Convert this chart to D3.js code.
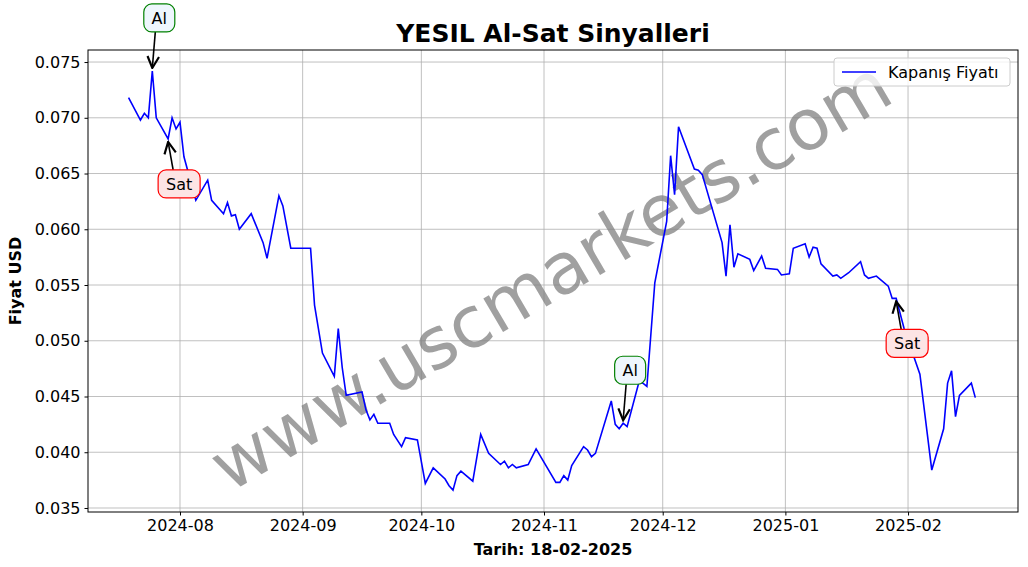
<!DOCTYPE html>
<html><head><meta charset="utf-8">
<script src="https://cdn.jsdelivr.net/npm/d3@7"></script>
<style>body{margin:0;background:#fff}svg{font-family:"DejaVu Sans",sans-serif}</style>
</head><body><svg id="c" width="1028" height="567"></svg>
<script>
const dates=["2024-07-19","2024-07-22","2024-07-23","2024-07-24","2024-07-25","2024-07-26","2024-07-29","2024-07-30","2024-07-31","2024-08-01","2024-08-02","2024-08-05","2024-08-08","2024-08-09","2024-08-12","2024-08-13","2024-08-14","2024-08-15","2024-08-16","2024-08-19","2024-08-22","2024-08-23","2024-08-26","2024-08-27","2024-08-29","2024-09-03","2024-09-04","2024-09-06","2024-09-09","2024-09-10","2024-09-11","2024-09-12","2024-09-16","2024-09-17","2024-09-18","2024-09-19","2024-09-20","2024-09-23","2024-09-24","2024-09-26","2024-09-27","2024-09-30","2024-10-02","2024-10-04","2024-10-07","2024-10-08","2024-10-09","2024-10-10","2024-10-11","2024-10-14","2024-10-16","2024-10-18","2024-10-21","2024-10-22","2024-10-23","2024-10-24","2024-10-25","2024-10-28","2024-10-30","2024-11-04","2024-11-05","2024-11-06","2024-11-07","2024-11-08","2024-11-11","2024-11-12","2024-11-13","2024-11-14","2024-11-18","2024-11-19","2024-11-20","2024-11-21","2024-11-22","2024-11-25","2024-11-26","2024-11-27","2024-11-29","2024-12-02","2024-12-03","2024-12-04","2024-12-05","2024-12-09","2024-12-10","2024-12-11","2024-12-16","2024-12-17","2024-12-18","2024-12-19","2024-12-20","2024-12-23","2024-12-24","2024-12-26","2024-12-27","2024-12-30","2024-12-31","2025-01-02","2025-01-03","2025-01-06","2025-01-07","2025-01-08","2025-01-09","2025-01-10","2025-01-13","2025-01-14","2025-01-15","2025-01-17","2025-01-20","2025-01-21","2025-01-22","2025-01-24","2025-01-27","2025-01-28","2025-01-29","2025-01-31","2025-02-04","2025-02-07","2025-02-10","2025-02-11","2025-02-12","2025-02-13","2025-02-14","2025-02-17","2025-02-18"];
const prices=[0.0718,0.0698,0.0704,0.0700,0.0742,0.0700,0.0681,0.0700,0.0690,0.0696,0.0665,0.0626,0.0644,0.0626,0.0614,0.0624,0.0612,0.0613,0.0600,0.0614,0.0588,0.0574,0.0630,0.0621,0.0583,0.0583,0.0532,0.0489,0.0468,0.0511,0.0476,0.0451,0.0454,0.0438,0.0429,0.0434,0.0426,0.0426,0.0416,0.0405,0.0413,0.0411,0.0372,0.0386,0.0376,0.0370,0.0366,0.0379,0.0383,0.0374,0.0416,0.0399,0.0389,0.0392,0.0386,0.0389,0.0386,0.0389,0.0403,0.0373,0.0373,0.0379,0.0375,0.0388,0.0405,0.0402,0.0396,0.0399,0.0446,0.0425,0.0421,0.0426,0.0423,0.0463,0.0462,0.0459,0.0552,0.0607,0.0666,0.0631,0.0692,0.0654,0.0653,0.0649,0.0588,0.0558,0.0604,0.0566,0.0578,0.0573,0.0563,0.0576,0.0565,0.0564,0.0559,0.0560,0.0583,0.0587,0.0575,0.0584,0.0583,0.0569,0.0558,0.0559,0.0556,0.0561,0.0571,0.0559,0.0556,0.0558,0.0549,0.0538,0.0538,0.0511,0.0470,0.0384,0.0421,0.0462,0.0473,0.0432,0.0451,0.0462,0.0449];
const yTicks=[0.035,0.040,0.045,0.050,0.055,0.060,0.065,0.070,0.075];
const xTickDates=["2024-08-01","2024-09-01","2024-10-01","2024-11-01","2024-12-01","2025-01-01","2025-02-01"];
const signals=[{date:"2024-07-25",label:"Al",type:"buy"},{date:"2024-07-29",label:"Sat",type:"sell"},{date:"2024-11-21",label:"Al",type:"buy"},{date:"2025-01-29",label:"Sat",type:"sell"}];

const P=d3.timeParse("%Y-%m-%d");
const data=dates.map((d,i)=>({d:P(d),v:prices[i]}));
const L=88,R=1018,T=50,B=512;
const FS=16;
const svg=d3.select("#c");
const x=d3.scaleTime().domain([new Date(2024,6,8,18),new Date(2025,1,28,19)]).range([L,R]);
const y=d3.scaleLinear().domain([0.03464,0.07608]).range([B,T]);
const g=svg.append("g");
g.selectAll(".gy").data(yTicks).join("line").attr("x1",L).attr("x2",R).attr("y1",d=>y(d)).attr("y2",d=>y(d)).attr("stroke","#b0b0b0").attr("stroke-width",0.8);
g.selectAll(".gx").data(xTickDates).join("line").attr("x1",d=>x(P(d))).attr("x2",d=>x(P(d))).attr("y1",T).attr("y2",B).attr("stroke","#b0b0b0").attr("stroke-width",0.8);
const ax=svg.append("g").attr("transform",`translate(0,${B})`).call(d3.axisBottom(x).tickValues(xTickDates.map(P)).tickFormat(d3.timeFormat("%Y-%m")).tickSizeOuter(0).tickSize(3.5).tickPadding(4));
const ay=svg.append("g").attr("transform",`translate(${L},0)`).call(d3.axisLeft(y).tickValues(yTicks).tickFormat(d3.format(".3f")).tickSizeOuter(0).tickSize(3.5).tickPadding(4));
[ax,ay].forEach(a=>{a.selectAll("text").attr("font-size",FS).attr("fill","#000").attr("font-family","DejaVu Sans");a.select(".domain").remove();});
svg.append("text").attr("transform","translate(553,280) rotate(-30.5)").attr("text-anchor","middle").attr("dominant-baseline","middle").attr("font-size",71).attr("fill","#808080").attr("fill-opacity",0.75).text("www.uscmarkets.com");
svg.append("path").datum(data).attr("fill","none").attr("stroke","#0000ff").attr("stroke-width",1.6).attr("d",d3.line().x(d=>x(d.d)).y(d=>y(d.v)));
svg.append("rect").attr("x",L).attr("y",T).attr("width",R-L).attr("height",B-T).attr("fill","none").attr("stroke","#000").attr("stroke-width",1);
svg.append("defs").append("marker").attr("id","ar").attr("viewBox","0 0 10 10").attr("refX",9).attr("refY",5).attr("markerWidth",9).attr("markerHeight",9).attr("orient","auto-start-reverse").append("path").attr("d","M1,1L9,5L1,9").attr("fill","none").attr("stroke","#000").attr("stroke-width",1.5);
signals.forEach(s=>{
  const pt=data.find(d=>+d.d===+P(s.date));
  const px=x(pt.d),py=y(pt.v);
  const buy=s.type==="buy";
  const tx=buy?px+7:px+11, ty=buy?py-53:py+45;
  const ex=px, ey=buy?py-3:py+3;
  svg.append("line").attr("x1",buy?tx-4:tx-6).attr("y1",buy?ty+14:ty-14).attr("x2",ex).attr("y2",ey).attr("stroke","#000").attr("stroke-width",1.6).attr("marker-end","url(#ar)");
  const w=buy?31:42;
  svg.append("rect").attr("x",tx-w/2).attr("y",ty-14).attr("width",w).attr("height",28).attr("rx",8).attr("fill",buy?"#eef6fd":"#fde4e4").attr("stroke",buy?"green":"red").attr("stroke-width",1.2);
  svg.append("text").attr("x",tx).attr("y",ty+6).attr("text-anchor","middle").attr("font-size",FS).text(s.label);
});
svg.append("text").attr("x",553).attr("y",42).attr("text-anchor","middle").attr("font-size",25).attr("font-weight","bold").text("YESIL Al-Sat Sinyalleri");
svg.append("text").attr("x",553).attr("y",555).attr("text-anchor","middle").attr("font-size",FS).attr("font-weight","bold").text("Tarih: 18-02-2025");
svg.append("text").attr("transform","translate(21,281) rotate(-90)").attr("text-anchor","middle").attr("font-size",FS).attr("font-weight","bold").text("Fiyat USD");
const lg=svg.append("g");
lg.append("rect").attr("x",834).attr("y",58).attr("width",176).attr("height",28).attr("rx",3).attr("fill","#fff").attr("fill-opacity",0.8).attr("stroke","#ccc");
lg.append("line").attr("x1",842).attr("x2",876).attr("y1",72).attr("y2",72).attr("stroke","#0000ff").attr("stroke-width",1.6);
lg.append("text").attr("x",888).attr("y",78).attr("font-size",FS).text("Kapanış Fiyatı");
</script></body></html>
